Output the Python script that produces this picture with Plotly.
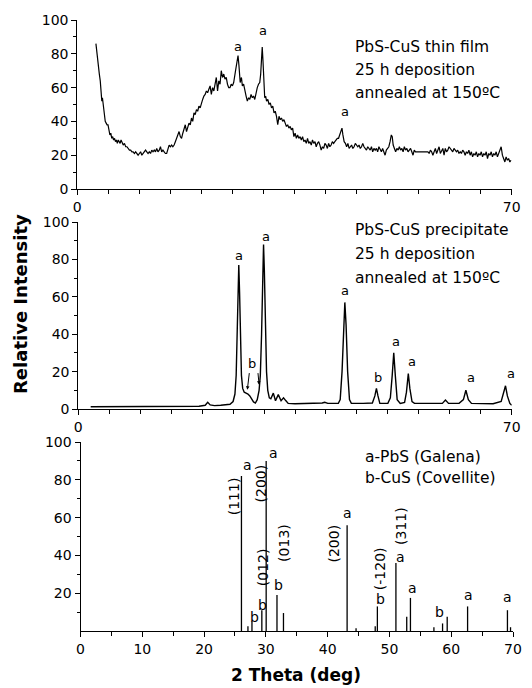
import plotly.graph_objects as go

# ---------------- data ----------------
# Top: PbS-CuS thin film (2theta, intensity)
film_x = [3.0, 3.2, 3.4, 3.55, 3.7, 3.85, 3.95, 4.05, 4.2, 4.35, 4.5, 4.65, 4.8, 4.95, 5.1, 5.25, 5.4, 5.55,
          5.7, 5.85, 6.0, 6.15, 6.3, 6.45, 6.6, 6.75, 6.9, 7.05, 7.2, 7.4, 7.6, 7.8, 8.0, 8.2, 8.4, 8.6, 8.8,
          9.0, 9.2, 9.4, 9.6, 9.8, 10.0, 10.2, 10.4, 10.6, 10.8, 11.0, 11.2, 11.4, 11.6, 11.8, 12.0, 12.2,
          12.4, 12.6, 12.8, 13.0, 13.2, 13.4, 13.6, 13.8, 14.0, 14.2, 14.4, 14.6, 14.8, 15.0, 15.2, 15.4,
          15.6, 15.8, 16.0, 16.2, 16.4, 16.6, 16.8, 17.0, 17.2, 17.4, 17.6, 17.8, 18.0, 18.2, 18.4, 18.6,
          18.8, 19.0, 19.2, 19.4, 19.6, 19.8, 20.0, 20.2, 20.4, 20.6, 20.8, 21.0, 21.2, 21.4, 21.6, 21.8,
          22.0, 22.2, 22.4, 22.6, 22.8, 23.0, 23.2, 23.4, 23.6, 23.8, 24.0, 24.2, 24.4, 24.6, 24.8, 25.0,
          25.2, 25.5, 25.75, 25.9, 26.05, 26.25, 26.45, 26.6, 26.8, 27.0, 27.2, 27.4, 27.6, 27.8, 28.0,
          28.2, 28.4, 28.6, 28.8, 29.0, 29.2, 29.4, 29.55, 29.7, 29.8, 29.92, 30.05, 30.2, 30.35, 30.5,
          30.7, 30.9, 31.1, 31.3, 31.5, 31.7, 31.9, 32.1, 32.3, 32.5, 32.7, 32.9, 33.1, 33.3, 33.5, 33.7,
          33.9, 34.1, 34.3, 34.5, 34.7, 34.9, 35.1, 35.3, 35.5, 35.7, 35.9, 36.1, 36.3, 36.5, 36.7, 36.9,
          37.1, 37.3, 37.5, 37.7, 37.9, 38.1, 38.3, 38.5, 38.7, 38.9, 39.1, 39.3, 39.5, 39.7, 39.9, 40.1,
          40.3, 40.5, 40.7, 40.9, 41.1, 41.3, 41.5, 41.7, 41.9, 42.1, 42.3, 42.5, 42.65, 42.8, 43.0, 43.2,
          43.4, 43.6, 43.8, 44.0, 44.2, 44.4, 44.6, 44.8, 45.0, 45.2, 45.4, 45.6, 45.8, 46.0, 46.2, 46.4,
          46.6, 46.8, 47.0, 47.2, 47.4, 47.6, 47.8, 48.0, 48.2, 48.4, 48.6, 48.8, 49.0, 49.2, 49.4, 49.6,
          49.8, 50.0, 50.2, 50.4, 50.6, 50.75, 50.9, 51.1, 51.3, 51.5, 51.7, 51.9, 52.1, 52.3, 52.5, 52.7,
          52.9, 53.1, 53.3, 53.5, 53.7, 53.9, 54.1, 54.3, 54.5, 54.7, 55.0, 55.3, 55.6, 55.9, 56.2, 56.5,
          56.7, 56.9, 57.1, 57.3, 57.5, 57.7, 57.9, 58.1, 58.3, 58.5, 58.7, 58.9, 59.1, 59.3, 59.5, 59.7,
          59.9, 60.1, 60.3, 60.5, 60.7, 60.9, 61.1, 61.3, 61.5, 61.7, 61.9, 62.1, 62.3, 62.5, 62.7, 62.9,
          63.1, 63.3, 63.5, 63.7, 63.9, 64.1, 64.3, 64.5, 64.7, 64.9, 65.1, 65.3, 65.5, 65.7, 65.9, 66.1,
          66.3, 66.5, 66.7, 66.9, 67.1, 67.3, 67.5, 67.7, 67.9, 68.1, 68.3, 68.5, 68.7, 68.9, 69.1, 69.3,
          69.5, 69.7, 69.9]
film_y = [86, 78, 72, 68, 64, 58, 52, 54, 48, 44, 40, 39, 38, 38, 34, 32, 33, 30,
          31, 29, 30, 28, 29, 27, 29, 28, 27, 29, 28, 26, 27, 25, 25, 24, 23, 23, 22,
          22, 21, 22, 21, 20, 21, 22, 20, 21, 22, 23, 22, 21, 22, 21, 23, 22,
          23, 22, 24, 22, 23, 25, 22, 23, 22, 21, 21, 23, 26, 25, 26, 25,
          26, 28, 30, 33, 34, 31, 30, 33, 36, 38, 34, 37, 39, 38, 42, 40,
          45, 44, 47, 46, 49, 48, 51, 53, 55, 56, 58, 57, 59, 61, 56, 60,
          58, 62, 66, 58, 64, 62, 70, 66, 68, 65, 66, 62, 60, 60, 62, 61,
          63, 70, 76, 79, 73, 63, 66, 61, 62, 57, 55, 52, 54, 53, 56,
          54, 55, 53, 57, 60, 62, 63, 68, 79, 84, 76, 64, 54, 55, 52,
          53, 50, 51, 48, 49, 45, 46, 43, 38, 43, 41, 42, 40, 41, 39, 37,
          38, 36, 37, 35, 36, 31, 33, 30, 32, 30, 31, 29, 31, 28, 29, 27,
          30, 27, 28, 26, 29, 27, 28, 25, 27, 28, 26, 23, 25, 24, 27, 26,
          24, 27, 25, 26, 28, 27, 28, 29, 30, 30, 32, 35, 36, 32, 28, 27,
          25, 27, 24, 25, 26, 24, 25, 27, 26, 25, 26, 24, 25, 27, 25, 24,
          23, 25, 24, 23, 25, 22, 24, 23, 24, 22, 25, 23, 22, 24, 22, 20,
          23, 24, 25, 28, 32, 31, 26, 24, 22, 24, 23, 25, 23, 24, 22, 25,
          23, 24, 22, 23, 24, 22, 20, 23, 22, 22, 22, 22, 22, 22, 22, 22,
          21, 23, 22, 20, 22, 24, 21, 23, 25, 21, 23, 24, 20, 24, 22, 23,
          25, 24, 23, 22, 24, 23, 22, 23, 21, 22, 21, 23, 22, 20, 22, 21,
          23, 20, 22, 19, 21, 20, 22, 19, 21, 20, 22, 19, 21, 20, 22, 18,
          21, 20, 22, 19, 21, 20, 22, 19, 21, 23, 25, 20, 18, 16, 19, 17,
          18, 16, 17]

# Middle: PbS-CuS precipitate
prec_x = [2.0, 5.0, 10.0, 15.0, 19.5, 20.5, 20.9, 21.3, 22.0, 23.0, 24.0, 24.5, 25.0, 25.3, 25.5, 25.65,
          25.8, 25.92, 26.05, 26.2, 26.35, 26.55, 26.8, 27.1, 27.4, 27.7, 28.0, 28.3, 28.6, 28.9, 29.2,
          29.4, 29.6, 29.78, 29.92, 30.05, 30.2, 30.4, 30.6, 30.85, 31.1, 31.5, 31.85, 32.3, 32.75, 33.15,
          33.5, 33.9, 35.0, 38.0, 39.4, 39.8, 40.3, 42.0, 42.3, 42.6, 42.85, 43.05, 43.25, 43.5, 43.8,
          44.1, 46.0, 47.5, 47.9, 48.15, 48.4, 48.7, 50.0, 50.4, 50.7, 50.95, 51.2, 51.5, 52.0, 52.7,
          53.0, 53.3, 53.55, 53.9, 54.3, 55.0, 57.0, 58.8, 59.3, 59.8, 61.5, 62.2, 62.6, 63.0, 63.5,
          67.0, 68.3, 68.8, 69.0, 69.3, 69.7, 70.0]
prec_y = [1.2, 1.2, 1.3, 1.2, 1.5, 2.0, 3.6, 2.2, 1.8, 2.0, 2.2, 2.5, 4.0, 8.0, 18.0, 35.0,
          62.0, 77.0, 62.0, 35.0, 18.0, 11.0, 9.0, 8.5, 8.0, 7.0, 5.0, 3.8, 3.2, 5.0, 10.0,
          18.0, 40.0, 72.0, 88.0, 74.0, 45.0, 20.0, 10.0, 6.0, 5.5, 8.5, 4.4, 7.7, 4.4, 6.0,
          4.5, 3.0, 2.8, 2.8, 3.2, 3.6, 3.0, 3.0, 5.0, 20.0, 45.0, 57.0, 45.0, 20.0, 5.0,
          3.0, 3.0, 3.2, 7.0, 11.0, 7.0, 3.0, 3.0, 6.0, 18.0, 30.0, 18.0, 5.0, 3.0, 3.5,
          9.0, 19.0, 11.0, 4.0, 3.0, 3.0, 2.8, 3.0, 4.8, 3.0, 3.0, 5.0, 10.0, 5.0, 3.0,
          2.8, 4.0, 10.0, 12.4, 7.0, 3.0, 2.0]

# Bottom: reference stick pattern
stick_pos = [26.05, 27.1, 27.75, 29.35, 30.05, 31.8, 32.85, 43.15, 44.6, 47.7, 48.05, 51.05, 52.8,
             53.4, 57.2, 58.6, 59.35, 62.65, 69.1, 69.6]
stick_int = [82, 2.5, 5, 11, 90, 19, 9.5, 56, 1.5, 2.5, 13, 36, 7.5, 17.5, 2, 4, 7.5, 13, 11, 2]
stick_phase = ["a", "", "b", "b", "a", "b", "", "a", "", "", "b", "a", "", "a", "", "b", "", "a", "a", ""]

hkl_text = ["(111)", "(200)", "(012)", "(013)", "(200)", "(-120)", "(311)"]
hkl_x = [24.75, 29.2, 29.45, 32.9, 41.1, 48.4, 51.85]
hkl_y = [71.5, 78, 34, 46.5, 46.5, 33, 55.5]

top_peak_x = [25.9, 29.8, 42.65]
top_peak_y = [79, 84, 36]
mid_peak_x = [25.92, 29.92, 43.05, 48.15, 50.95, 53.3, 62.6, 69.0]
mid_peak_y = [77, 88, 57, 11, 30, 19, 10, 12.4]
mid_peak_lab = ["a", "a", "a", "b", "a", "a", "a", "a"]

top_text = ["PbS-CuS thin film", "25 h deposition", "annealed at 150ºC"]
mid_text = ["PbS-CuS precipitate", "25 h deposition", "annealed at 150ºC"]
bot_text = ["a-PbS (Galena)", "b-CuS (Covellite)"]

# ---------------- styling helpers ----------------
FONT = "DejaVu Sans, Liberation Sans, Arial, sans-serif"
W, H = 532, 688


def px(xp):
    return xp / W


def py(yp):
    return 1 - yp / H


fig = go.Figure()
fig.add_trace(go.Scatter(x=film_x, y=film_y, mode="lines", xaxis="x", yaxis="y",
                         line=dict(color="black", width=1.2), showlegend=False, hoverinfo="skip"))
fig.add_trace(go.Scatter(x=prec_x, y=prec_y, mode="lines", xaxis="x2", yaxis="y2",
                         line=dict(color="black", width=1.4), showlegend=False, hoverinfo="skip"))
sx, sy = [], []
for p, h in zip(stick_pos, stick_int):
    sx += [p, p, None]
    sy += [0, h, None]
fig.add_trace(go.Scatter(x=sx, y=sy, mode="lines", xaxis="x3", yaxis="y3",
                         line=dict(color="black", width=1.3), showlegend=False, hoverinfo="skip"))

tickfont = dict(family=FONT, size=14, color="black")
common_x = dict(range=[0, 70], showgrid=False, zeroline=False, showline=True, linecolor="black",
                linewidth=1, ticks="outside", ticklen=5, tickwidth=1, tickcolor="black",
                tickfont=tickfont, automargin=False,
                minor=dict(dtick=5, ticks="outside", ticklen=4, tickcolor="black", tickwidth=1))
common_y = dict(range=[0, 100], showgrid=False, zeroline=False, showline=True, linecolor="black",
                linewidth=1, ticks="outside", ticklen=5, tickwidth=1, tickcolor="black",
                tickfont=tickfont, automargin=False,
                minor=dict(tickvals=[10, 30, 50, 70, 90], ticks="outside", ticklen=3,
                           tickcolor="black", tickwidth=1))

fig.update_layout(
    width=W, height=H, margin=dict(l=0, r=0, t=0, b=0),
    paper_bgcolor="white", plot_bgcolor="white", hovermode=False,
    xaxis=dict(common_x, domain=[px(77.3), px(511.7)], anchor="y", tickvals=[0, 70]),
    yaxis=dict(common_y, domain=[py(189), py(20)], anchor="x", tickvals=[0, 20, 40, 60, 80, 100]),
    xaxis2=dict(common_x, domain=[px(78.3), px(511.7)], anchor="y2", tickvals=[0, 70]),
    yaxis2=dict(common_y, domain=[py(409), py(222)], anchor="x2", tickvals=[0, 20, 40, 60, 80, 100]),
    xaxis3=dict(common_x, domain=[px(80.5), px(513)], anchor="y3", tickvals=[0, 10, 20, 30, 40, 50, 60, 70]),
    yaxis3=dict(common_y, domain=[py(631), py(442)], anchor="x3", tickvals=[20, 40, 60, 80, 100]),
)

ann = []
small = dict(family=FONT, size=13, color="black")
# peak labels, top panel
top_off = [(0, 9), (1, 17), (3, 17)]
for (x, y), (dx, dy) in zip(zip(top_peak_x, top_peak_y), top_off):
    ann.append(dict(x=x, y=y, xref="x", yref="y", text="a", showarrow=False, font=small,
                    xanchor="center", yanchor="middle", xshift=dx, yshift=dy))
# peak labels, middle panel
mid_off = [(0, 10), (2, 7.5), (0, 12.4), (2, 11), (2, 11), (4, 12), (5, 13), (5, 12)]
for x, y, t, (dx, dy) in zip(mid_peak_x, mid_peak_y, mid_peak_lab, mid_off):
    ann.append(dict(x=x, y=y, xref="x2", yref="y2", text=t, showarrow=False, font=small,
                    xanchor="center", yanchor="middle", xshift=dx, yshift=dy))
# shoulder 'b' with arrows, middle panel
ann.append(dict(x=28.1, y=24.5, xref="x2", yref="y2", text="b", showarrow=False, font=small))
ann.append(dict(x=27.3, y=10.3, ax=27.65, ay=20, xref="x2", yref="y2", axref="x2", ayref="y2",
                text="", showarrow=True, arrowhead=2, arrowsize=0.7, arrowwidth=1, arrowcolor="black"))
ann.append(dict(x=29.2, y=13, ax=29.0, ay=20, xref="x2", yref="y2", axref="x2", ayref="y2",
                text="", showarrow=True, arrowhead=2, arrowsize=0.7, arrowwidth=1, arrowcolor="black"))
# stick labels, bottom panel
stick_off = {26.05: (6, 11), 27.75: (2.5, 5), 29.35: (1, 5), 30.05: (7, 7.5), 31.8: (2, 10),
             43.15: (0, 12), 48.05: (3, 7), 51.05: (5, 6), 53.4: (2, 10), 58.6: (-3, 11),
             62.65: (1, 11), 69.1: (0, 13)}
for p, h, t in zip(stick_pos, stick_int, stick_phase):
    if t:
        dx, dy = stick_off[p]
        ann.append(dict(x=p, y=h, xref="x3", yref="y3", text=t, showarrow=False,
                        font=dict(family=FONT, size=14, color="black"),
                        xanchor="center", yanchor="middle", xshift=dx, yshift=dy))
for t, x, y in zip(hkl_text, hkl_x, hkl_y):
    ann.append(dict(x=x, y=y, xref="x3", yref="y3", text=t, showarrow=False, textangle=-90,
                    font=dict(family=FONT, size=14, color="black"), xanchor="center", yanchor="middle"))

# panel descriptions
big = dict(family=FONT, size=15.5, color="black")
for t, yy in zip(top_text, [46.7, 70, 93.5]):
    ann.append(dict(x=px(352.7), y=py(yy), xref="paper", yref="paper", text=t, showarrow=False,
                    font=big, xanchor="left", yanchor="middle"))
for t, yy in zip(mid_text, [230, 254, 278]):
    ann.append(dict(x=px(352.7), y=py(yy), xref="paper", yref="paper", text=t, showarrow=False,
                    font=big, xanchor="left", yanchor="middle"))
for t, yy in zip(bot_text, [456.7, 478.3]):
    ann.append(dict(x=px(362.7), y=py(yy), xref="paper", yref="paper", text=t, showarrow=False,
                    font=big, xanchor="left", yanchor="middle"))

# axis titles
ann.append(dict(x=px(20), y=py(304), xref="paper", yref="paper", text="<b>Relative Intensity</b>",
                showarrow=False, textangle=-90, font=dict(family=FONT, size=18, color="black"),
                xanchor="center", yanchor="middle"))
ann.append(dict(x=px(295.5), y=py(675), xref="paper", yref="paper", text="<b>2 Theta (deg)</b>",
                showarrow=False, font=dict(family=FONT, size=17, color="black"),
                xanchor="center", yanchor="middle"))

fig.update_layout(annotations=ann)
fig.write_html("out.html", config={"displayModeBar": False, "staticPlot": True},
               post_script="document.body.style.margin='0px';document.body.style.overflow='hidden';")
